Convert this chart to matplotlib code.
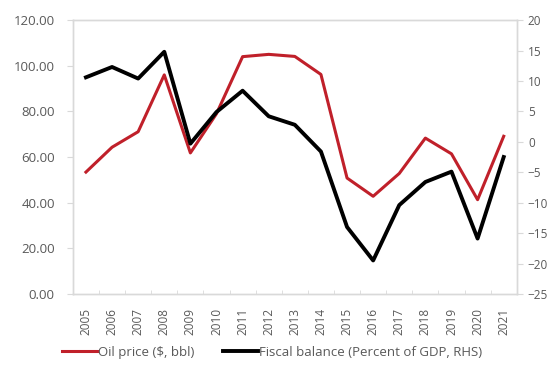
import matplotlib
matplotlib.use("Agg")
import matplotlib.pyplot as plt
import numpy as np
from matplotlib.ticker import FuncFormatter, FixedLocator

years = [str(y) for y in range(2005, 2022)]
oil_price = [53.4, 64.3, 71.1, 96.0, 61.8, 79.0, 104.0, 105.0, 104.1, 96.2,
             50.8, 42.8, 52.8, 68.3, 61.4, 41.3, 69.1]
fiscal_balance = [10.6, 12.3, 10.4, 14.8, -0.3, 4.9, 8.4, 4.2, 2.8, -1.6,
                  -14.0, -19.5, -10.4, -6.6, -4.9, -15.9, -2.5]

plt.rcParams['font.family'] = ['Open Sans', 'DejaVu Sans']
gray = '#595959'
spine_c = '#d9d9d9'

fig = plt.figure(figsize=(5.48, 3.73), dpi=100)
ax = fig.add_axes([0.133, 0.212, 0.81, 0.734])
ax2 = ax.twinx()

x = np.arange(len(years))
l1, = ax.plot(x, oil_price, color='#c0202a', lw=2.2, label='Oil price ($, bbl)', zorder=3)
l2, = ax2.plot(x, fiscal_balance, color='#000000', lw=2.8, label='Fiscal balance (Percent of GDP, RHS)', zorder=2)

ax.set_ylim(0, 120)
ax.set_yticks(np.arange(0, 121, 20))
ax.yaxis.set_major_formatter(FuncFormatter(lambda v, p: f"{v:.2f}"))
ax2.set_ylim(-25, 20)
ax2.set_yticks(np.arange(-25, 21, 5))
ax.set_xlim(-0.5, len(years) - 0.5)
ax.set_xticks(x)
ax.set_xticklabels(years, rotation=90)
ax.xaxis.set_minor_locator(FixedLocator(np.arange(-0.5, len(years), 1)))
ax.tick_params(axis='x', which='major', length=0, pad=10, labelsize=8.5, labelcolor=gray)
ax.tick_params(axis='x', which='minor', length=3, direction='in', color=spine_c)
ax.tick_params(axis='y', length=4, color=spine_c, labelsize=9.5, labelcolor=gray, pad=9)
ax2.tick_params(axis='y', length=4, color=spine_c, labelsize=8.5, labelcolor=gray, pad=4)

for a in (ax, ax2):
    for s in a.spines.values():
        s.set_color(spine_c)
        s.set_linewidth(1.0)

fig.legend(handles=[l1, l2], loc='center', bbox_to_anchor=(0.497, 0.056), ncol=2,
           frameon=False, fontsize=9.5, labelcolor=gray, handlelength=2.6,
           handletextpad=0.1, columnspacing=2.2)

fig.savefig('out.png', dpi=100)
